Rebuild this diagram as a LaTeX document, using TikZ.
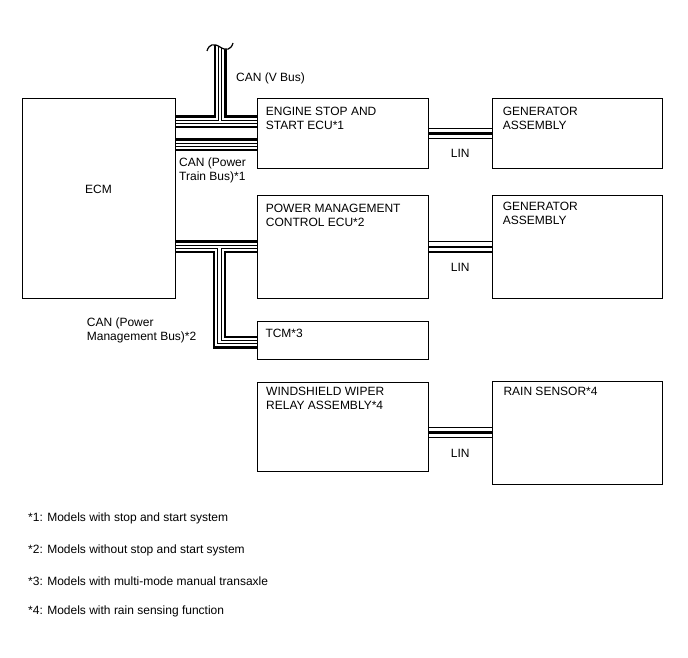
\documentclass[tikz,border=0pt]{standalone}
\usepackage{fontspec}
\setmainfont{Liberation Sans}
\usetikzlibrary{positioning,backgrounds}

\begin{document}
\begin{tikzpicture}[
  x=1pt, y=-1pt,
  unit/.style={rectangle, draw, line width=1pt, inner sep=0pt, outer sep=0pt, anchor=north west},
  txt/.style={inner sep=0pt, align=left, font=\fontsize{12}{14}\selectfont},
  canbus/.style={draw, line width=13pt, line join=miter,
    postaction={draw, white, line width=8.4pt},
    postaction={draw, black, line width=4.4pt},
    postaction={draw, white, line width=2.2pt}},
  linbus/.style={draw, line width=11.6pt,
    postaction={draw, white, line width=9.4pt},
    postaction={draw, black, line width=2.4pt}}
]
\useasboundingbox (0,0) rectangle (688,658);

% ECUs (left column)
\node[unit, minimum width=153pt, minimum height=199pt] (ecm) at (22,99) {};
\node[unit, minimum width=171.5pt, minimum height=69pt, right=82pt of ecm.north east, anchor=north west] (ess) {};
\node[unit, minimum width=171.5pt, minimum height=102.5pt, below=27.5pt of ess.south west, anchor=north west] (pmc) {};
\node[unit, minimum width=171.5pt, minimum height=38pt, below=23.5pt of pmc.south west, anchor=north west] (tcm) {};
\node[unit, minimum width=171.5pt, minimum height=89pt, below=22.5pt of tcm.south west, anchor=north west] (wiper) {};

% slaves (right column)
\node[unit, minimum width=170.5pt, minimum height=69pt, right=63.5pt of ess.north east, anchor=north west] (gen1) {};
\node[unit, minimum width=170.5pt, minimum height=102.5pt, right=63.5pt of pmc.north east, anchor=north west] (gen2) {};
\node[unit, minimum width=170.5pt, minimum height=103pt, right=63.5pt of wiper.north east, anchor=north west, yshift=1pt] (rain) {};

% box texts
\node[txt] (ecmtxt) at (98.5,189) {ECM};
\node[txt, anchor=north west] (esstxt) at ([xshift=8.7pt, yshift=-7.7pt]ess.north west) {ENGINE STOP AND\\START ECU*1};
\node[txt, anchor=north west] (gen1txt) at ([xshift=10.7pt, yshift=-7.7pt]gen1.north west) {GENERATOR\\ASSEMBLY};
\node[txt, anchor=north west] (pmctxt) at ([xshift=8.7pt, yshift=-8.8pt]pmc.north west) {POWER MANAGEMENT\\CONTROL ECU*2};
\node[txt, anchor=north west] (gen2txt) at ([xshift=10.7pt, yshift=-6.8pt]gen2.north west) {GENERATOR\\ASSEMBLY};
\node[txt, anchor=north west] (tcmtxt) at ([xshift=8.3pt, yshift=-7.8pt]tcm.north west) {TCM*3};
\node[txt, anchor=north west] (wipertxt) at ([xshift=9pt, yshift=-4.7pt]wiper.north west) {WINDSHIELD WIPER\\RELAY ASSEMBLY*4};
\node[txt, anchor=north west] (raintxt) at ([xshift=11.3pt, yshift=-6.3pt]rain.north west) {RAIN SENSOR*4};

% bus junctions
\coordinate (vtop) at (220,45);
\coordinate (vj)   at (220,122);
\coordinate (ptb)  at (200,145);
\coordinate (pmj)  at (219.5,246.75);
\coordinate (tcmc) at (219.5,342);

\begin{scope}[on background layer]
  % CAN (V Bus)
  \path[canbus] (ecm.east |- vj) -- (ess.west |- vj) (vj) -- (vtop);
  % CAN (Power Train Bus)
  \path[canbus] (ecm.east |- ptb) -- (ess.west |- ptb);
  % CAN (Power Management Bus)
  \path[canbus] (ecm.east |- pmj) -- (pmc.west |- pmj) (pmj) -- (tcmc) -- (tcm.west |- tcmc);
  % LIN
  \path[linbus] (ess.east) -- node[txt, below=9.8pt] (lin1) {LIN} (gen1.west);
  \path[linbus] (pmc.east) -- node[txt, below=10.5pt] (lin2) {LIN} (gen2.west);
  \path[linbus] (wiper.east |- rain.west) -- node[txt, below=11.3pt] (lin3) {LIN} (rain.west);
\end{scope}

% break mark on V bus
\fill[white] (205,38) -- (207,51) .. controls (209,44) and (214,43) .. (220,47)
  .. controls (226,51) and (231,50) .. (233,43) -- (236,38) -- cycle;
\draw[line width=1.2pt] (207,51) .. controls (209,44) and (214,43) .. (220,47)
  .. controls (226,51) and (231,50) .. (233,43);

% bus names
\node[txt, anchor=north west] (vbus) at (236,72.5) {CAN (V Bus)};
\node[txt, anchor=north west] (ptbus) at (179,157.3) {CAN (Power\\Train Bus)*1};
\node[txt, anchor=north west] (pmbus) at (86.7,317.3) {CAN (Power\\Management Bus)*2};

% notes
\node[txt, anchor=north west] (note1) at (28,513) {*1: Models with stop and start system};
\node[txt, anchor=north west] (note2) at (28,545) {*2: Models without stop and start system};
\node[txt, anchor=north west] (note3) at (28,577) {*3: Models with multi-mode manual transaxle};
\node[txt, anchor=north west] (note4) at (28,606) {*4: Models with rain sensing function};

\end{tikzpicture}
\end{document}
